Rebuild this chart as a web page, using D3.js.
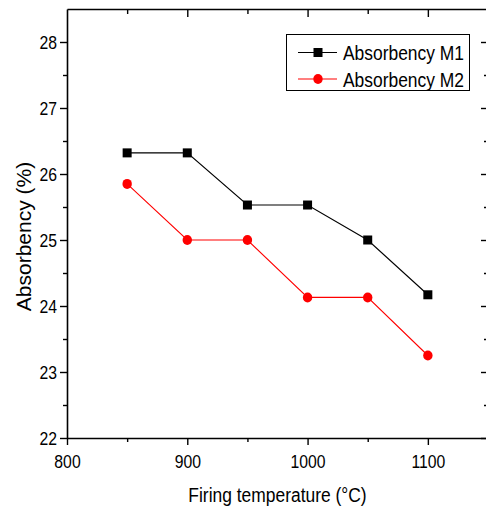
<!DOCTYPE html>
<html>
<head>
<meta charset="utf-8">
<script src="https://cdn.jsdelivr.net/npm/d3@7"></script>
<style>
  html, body { margin: 0; padding: 0; background: #fff; }
  svg { display: block; }
  text { font-family: "Liberation Sans", Arial, sans-serif; fill: #000; }
</style>
</head>
<body>
<svg id="chart" width="486" height="511"></svg>
<script>
// Firing temperature (°C)
const temperatures = [850, 900, 950, 1000, 1050, 1100];
// Absorbency (%) for each mix
const absorbencyM1 = [26.32, 26.32, 25.53, 25.53, 25.00, 24.17];
const absorbencyM2 = [25.85, 25.00, 25.00, 24.13, 24.13, 23.25];
const seriesNames = ["Absorbency M1", "Absorbency M2"];
const xTickValues = [800, 900, 1000, 1100];
const xMinorValues = [850, 950, 1050];
const yTickValues = [22, 23, 24, 25, 26, 27, 28];
const yMinorValues = [22.5, 23.5, 24.5, 25.5, 26.5, 27.5];

const svg = d3.select("#chart");
const plotLeft = 67, plotRight = 488, plotTop = 9, plotBottom = 438;
const squeeze = 0.83; // horizontal text is set slightly condensed

const x = d3.scaleLinear().domain([800, 1150]).range([plotLeft, plotRight]);
const y = d3.scaleLinear().domain([22, 28.5]).range([plotBottom, plotTop]);

function styleAxis(g) {
  g.select(".domain").attr("stroke", "#000").attr("stroke-width", 1.6);
  g.selectAll(".tick line").attr("stroke", "#000").attr("stroke-width", 1.4);
}

// bottom axis: outward ticks with labels
const gx = svg.append("g").attr("transform", `translate(0,${plotBottom})`)
  .call(d3.axisBottom(x).tickValues(xTickValues).tickSize(7).tickSizeOuter(0).tickFormat(d3.format("d")));
styleAxis(gx);
gx.selectAll(".tick text").attr("font-size", 19).attr("dy", null).attr("y", 0)
  .attr("transform", `translate(0,30) scale(${squeeze},1)`);
svg.append("g").attr("transform", `translate(0,${plotBottom})`)
  .call(d3.axisBottom(x).tickValues(xMinorValues).tickSize(4).tickFormat(""))
  .call(g => g.select(".domain").remove()).call(styleAxis);

// top axis: inward ticks, no labels
svg.append("g").attr("transform", `translate(0,${plotTop})`)
  .call(d3.axisBottom(x).tickValues(xTickValues.slice(1)).tickSize(8).tickSizeOuter(0).tickFormat(""))
  .call(styleAxis);
svg.append("g").attr("transform", `translate(0,${plotTop})`)
  .call(d3.axisBottom(x).tickValues(xMinorValues).tickSize(5).tickFormat(""))
  .call(g => g.select(".domain").remove()).call(styleAxis);

// left axis: outward ticks with labels
const gy = svg.append("g").attr("transform", `translate(${plotLeft},0)`)
  .call(d3.axisLeft(y).tickValues(yTickValues).tickSize(7).tickSizeOuter(0).tickFormat(d3.format("d")));
styleAxis(gy);
gy.selectAll(".tick text").attr("font-size", 19).attr("x", 0).attr("dy", "0.35em")
  .attr("text-anchor", "end")
  .attr("transform", `translate(-10,0) scale(${squeeze},1)`);
svg.append("g").attr("transform", `translate(${plotLeft},0)`)
  .call(d3.axisLeft(y).tickValues(yMinorValues).tickSize(4).tickFormat(""))
  .call(g => g.select(".domain").remove()).call(styleAxis);

// right axis: inward ticks, no labels
svg.append("g").attr("transform", `translate(${plotRight},0)`)
  .call(d3.axisLeft(y).tickValues(yTickValues).tickSize(7).tickSizeOuter(0).tickFormat(""))
  .call(styleAxis);
svg.append("g").attr("transform", `translate(${plotRight},0)`)
  .call(d3.axisLeft(y).tickValues(yMinorValues).tickSize(4).tickFormat(""))
  .call(g => g.select(".domain").remove()).call(styleAxis);

// axis titles
svg.append("text")
  .attr("transform", `translate(${(plotLeft + plotRight) / 2},502) scale(${squeeze},1)`)
  .attr("text-anchor", "middle").attr("font-size", 21)
  .text("Firing temperature (°C)");
svg.append("text")
  .attr("transform", `translate(31,${(158 + 315) / 2}) rotate(-90)`)
  .attr("text-anchor", "middle").attr("font-size", 21)
  .text("Absorbency (%)");

// series
const series = [
  { name: seriesNames[0], values: absorbencyM1, color: "#000000", shape: "square" },
  { name: seriesNames[1], values: absorbencyM2, color: "#ff0000", shape: "circle" }
];
const line = d3.line().x(d => x(d[0])).y(d => y(d[1]));

function drawMarker(g, shape, color) {
  if (shape === "square") {
    g.append("rect").attr("x", -4.5).attr("y", -4.5).attr("width", 9).attr("height", 9).attr("fill", color);
  } else {
    g.append("ellipse").attr("rx", 4.7).attr("ry", 5).attr("fill", color);
  }
}

series.forEach(s => {
  const pts = temperatures.map((t, i) => [t, s.values[i]]);
  svg.append("path").datum(pts).attr("d", line)
    .attr("fill", "none").attr("stroke", s.color).attr("stroke-width", 1.1);
  pts.forEach(p => {
    const g = svg.append("g").attr("transform", `translate(${x(p[0])},${y(p[1])})`);
    drawMarker(g, s.shape, s.color);
  });
});

// legend
const legend = svg.append("g");
legend.append("rect").attr("x", 286.5).attr("y", 34.5).attr("width", 183).attr("height", 56)
  .attr("fill", "#fff").attr("stroke", "#000").attr("stroke-width", 1);
series.forEach((s, i) => {
  const cy = 52.5 + i * 26.5;
  legend.append("line").attr("x1", 298).attr("x2", 337).attr("y1", cy).attr("y2", cy)
    .attr("stroke", s.color).attr("stroke-width", 1.1);
  const g = legend.append("g").attr("transform", `translate(318,${cy})`);
  drawMarker(g, s.shape, s.color);
  legend.append("text").attr("transform", `translate(343,${cy + 7.5}) scale(${squeeze},1)`)
    .attr("font-size", 21).text(s.name);
});
</script>
</body>
</html>
